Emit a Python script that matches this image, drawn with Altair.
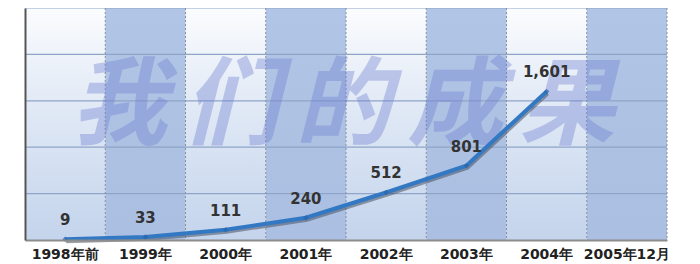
import altair as alt
import pandas as pd

categories = ["1998年前", "1999年", "2000年", "2001年", "2002年", "2003年", "2004年", "2005年12月"]
values = [9, 33, 111, 240, 512, 801, 1601]
value_labels = ["9", "33", "111", "240", "512", "801", "1,601"]
shade = ["light", "dark", "light", "dark", "light", "dark", "light", "dark"]
grid_values = [500, 1000, 1500, 2000, 2500]
watermark = "我\u2006们\u2006的\u2006成\u2006果"

bg = pd.DataFrame({"cat": categories, "shade": shade})
pts = pd.DataFrame({"cat": categories[:len(values)], "value": values, "label": value_labels})
grid = pd.DataFrame({"v": grid_values})

xenc = alt.X("cat:N", sort=categories,
             scale=alt.Scale(paddingInner=0, paddingOuter=0),
             axis=alt.Axis(title=None, ticks=False, labelAngle=0, labelFontSize=14,
                           labelFontWeight="bold", labelFont="DejaVu Sans", labelColor="#222",
                           labelPadding=7, domainColor="#8c8c8c", domainWidth=2, zindex=1))
yscale = alt.Scale(domain=[0, 2500], nice=False, zero=True)

light_grad = alt.Gradient(gradient="linear", x1=0, x2=0, y1=0, y2=1,
                          stops=[alt.GradientStop(offset=0, color="#fbfcfe"),
                                 alt.GradientStop(offset=0.45, color="#dfe8f5"),
                                 alt.GradientStop(offset=1, color="#c4d4ec")])
dark_grad = alt.Gradient(gradient="linear", x1=0, x2=0, y1=0, y2=1,
                         stops=[alt.GradientStop(offset=0, color="#b1c6e6"),
                                alt.GradientStop(offset=1, color="#aabfe1")])

base_bg = alt.Chart(bg)
light = base_bg.transform_filter(alt.datum.shade == "light").mark_rect(color=light_grad).encode(x=xenc)
dark = base_bg.transform_filter(alt.datum.shade == "dark").mark_rect(color=dark_grad).encode(x=xenc)

vrules = base_bg.mark_rule(color="#8a8f9c", strokeDash=[2, 2], strokeWidth=1).encode(
    x=alt.X("cat:N", sort=categories, bandPosition=1)
)
hrules = alt.Chart(grid).mark_rule(color="#8ea4c8", strokeWidth=1.2).encode(
    y=alt.Y("v:Q", scale=yscale)
)

wm = alt.Chart(pd.DataFrame({"t": [watermark]})).mark_text(
    font="Noto Sans CJK SC", fontSize=96, fontStyle="italic", fontWeight="bold",
    color="#6f7fd2", opacity=0.38, baseline="middle", align="center"
).encode(text="t:N", x=alt.value(318), y=alt.value(100))

yenc = alt.Y("value:Q", scale=yscale,
             axis=alt.Axis(title=None, labels=False, ticks=False, grid=False,
                           domainColor="#555", domainWidth=2, zindex=1))

shadow = alt.Chart(pts).mark_line(color="#4a5260", strokeWidth=4, interpolate="linear",
                                  opacity=0.55, yOffset=2, xOffset=1).encode(x=xenc, y=yenc)
line = alt.Chart(pts).mark_line(color="#3278c2", strokeWidth=4, interpolate="linear").encode(
    x=xenc, y=yenc)
marks = alt.Chart(pts).mark_point(shape="diamond", filled=True, size=30, color="#2a62a8").encode(
    x=xenc, y=yenc)
labels = alt.Chart(pts).mark_text(dy=-19, fontSize=15, fontWeight="bold", font="DejaVu Sans",
                                  color="#333").encode(x=xenc, y=yenc, text="label:N")

chart = alt.layer(light, dark, hrules, vrules, wm, shadow, line, marks, labels).properties(
    width=642, height=232,
    autosize=alt.AutoSizeParams(type="none"),
    padding={"left": 17, "top": 0, "right": 10, "bottom": 22},
).configure_view(stroke=None)

chart.save("out.html", embed_options={"renderer": "svg", "actions": False})
